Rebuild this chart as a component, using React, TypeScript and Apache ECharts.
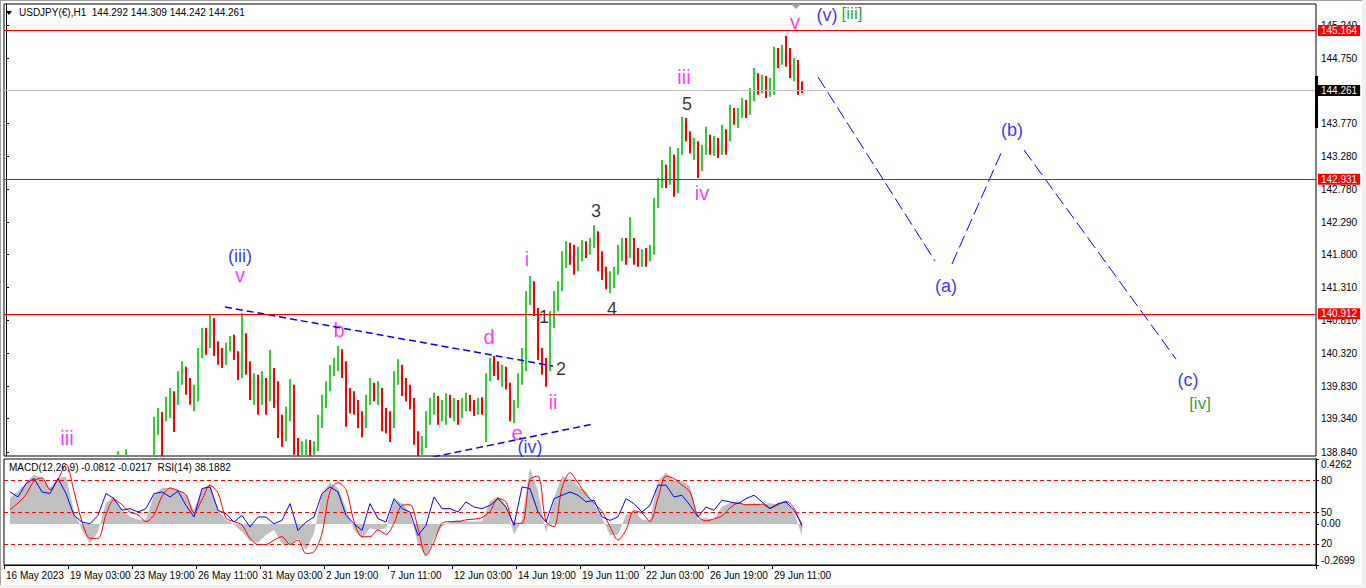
import React, { useEffect, useRef } from "react";
import * as echarts from "echarts";

// ---------- price data (4-hour candles, USDJPY) ----------
const FIRST_OPEN = 136.3;
const closes = [
  136.35, 136.42, 136.55, 136.6, 136.75, 136.9, 137.05, 137.3, 137.55, 137.7,
  137.85, 138.05, 138.3, 138.55, 138.62, 138.5, 138.45, 138.6, 138.55, 138.2,
  137.8, 137.95, 138.1, 138.25, 138.35, 138.4, 138.55, 138.5, 138.6, 138.55,
  138.65, 138.45, 138.4, 138.3, 138.45, 138.55, 138.6, 139.25, 139.4, 139.35,
  139.55, 139.7, 139.6, 139.95, 140.05, 139.8, 139.7, 139.75, 140.3, 140.55,
  140.45, 140.75, 140.4, 140.25, 140.2, 140.4, 140.5, 140.3, 140.05, 140.45,
  140.15, 139.75, 139.9, 139.7, 139.85, 139.75, 140.0, 139.85, 139.3, 139.05,
  139.4, 139.7, 138.95, 138.85, 138.9, 138.95, 138.82, 138.9, 139.3, 139.6,
  139.8, 140.05, 140.15, 140.3, 140.15, 139.7, 139.6, 139.55, 139.35, 139.25,
  139.6, 139.8, 139.7, 139.75, 139.35, 139.3, 139.25, 139.95, 140.1, 139.8,
  139.75, 139.6, 139.1, 138.9, 138.95, 139.35, 139.55, 139.6, 139.4, 139.5,
  139.6, 139.45, 139.55, 139.4, 139.55, 139.65, 139.55, 139.5, 139.6, 139.5,
  139.95, 140.15, 140.1, 140.0, 140.05, 139.85, 139.4, 139.55, 139.95, 140.1,
  141.15, 141.35, 140.95, 140.35, 140.2, 140.1, 140.85, 141.1, 141.3, 141.75,
  141.9, 141.85, 141.6, 141.8, 141.95, 141.9, 141.98, 142.1, 141.7, 141.55,
  141.35, 141.4, 141.55, 141.85, 141.95, 141.8, 142.0, 141.75, 141.7, 141.8,
  141.75, 141.85, 142.55, 142.85, 143.05, 142.9, 143.25, 142.95, 143.35, 143.8,
  143.6, 143.4, 143.45, 143.1, 143.35, 143.5, 143.4, 143.45, 143.35, 143.6,
  143.55, 143.95, 143.85, 143.9, 144.05, 143.95, 144.2, 144.45, 144.3, 144.4,
  144.25, 144.35, 144.8, 144.7, 144.85, 144.75, 144.55, 144.65, 144.35, 144.261,
];
const lows = [
  136.2, 136.28, 136.35, 136.45, 136.55, 136.7, 136.85, 137.0, 137.25, 137.45,
  137.62, 137.8, 138.0, 138.25, 138.45, 138.4, 138.35, 138.4, 138.45, 138.1,
  137.5, 137.75, 137.9, 138.05, 138.2, 138.3, 138.35, 138.4, 138.45, 138.45,
  138.5, 138.35, 138.25, 138.15, 138.25, 138.4, 138.45, 138.55, 139.1, 138.75,
  139.3, 139.35, 139.14, 139.55, 139.85, 139.7, 139.55, 139.45, 139.6, 140.25,
  140.3, 140.4, 140.28, 140.15, 140.1, 140.15, 140.35, 140.22, 139.92, 139.95,
  140.0, 139.62, 139.55, 139.4, 139.55, 139.4, 139.6, 139.5, 139.05, 138.92,
  139.0, 139.3, 138.8, 138.7, 138.72, 138.75, 138.7, 138.72, 138.85, 139.2,
  139.5, 139.75, 139.98, 140.05, 139.95, 139.22, 139.42, 139.4, 139.2, 139.06,
  139.2, 139.55, 139.6, 139.55, 139.15, 139.12, 138.99, 139.2, 139.85, 139.68,
  139.6, 139.48, 138.95, 138.78, 138.8, 138.9, 139.25, 139.4, 139.25, 139.3,
  139.25, 139.35, 139.3, 139.25, 139.35, 139.45, 139.45, 139.38, 139.4, 139.4,
  138.99, 139.9, 139.98, 139.92, 139.82, 139.78, 139.3, 139.27, 139.5, 139.85,
  140.05, 141.05, 140.88, 140.22, 140.0, 139.82, 140.05, 140.7, 140.95, 141.25,
  141.6, 141.65, 141.5, 141.55, 141.7, 141.75, 141.8, 141.9, 141.55, 141.42,
  141.28, 141.22, 141.3, 141.5, 141.7, 141.65, 141.75, 141.65, 141.62, 141.62,
  141.62, 141.7, 141.8, 142.5, 142.8, 142.8, 142.85, 142.67, 142.72, 143.3,
  143.5, 143.32, 143.22, 142.95, 143.05, 143.3, 143.3, 143.28, 143.25, 143.3,
  143.3, 143.5, 143.75, 143.7, 143.85, 143.85, 143.9, 144.1, 144.2, 144.22,
  144.15, 144.17, 144.2, 144.6, 144.65, 144.62, 144.45, 144.4, 144.2, 144.22,
];
const highs = [
  136.45, 136.55, 136.62, 136.7, 136.85, 137.0, 137.15, 137.4, 137.65, 137.8,
  137.95, 138.15, 138.4, 138.65, 138.72, 138.7, 138.6, 138.7, 138.72, 138.6,
  138.25, 138.05, 138.2, 138.35, 138.45, 138.55, 138.65, 138.7, 138.85, 138.7,
  138.88, 138.7, 138.55, 138.5, 138.55, 138.65, 138.7, 139.37, 139.5, 139.44,
  139.67, 139.8, 139.75, 140.05, 140.2, 140.12, 139.95, 139.85, 140.4, 140.7,
  140.7, 140.91, 140.85, 140.5, 140.4, 140.48, 140.58, 140.6, 140.35, 140.92,
  140.62, 140.2, 140.02, 140.0, 140.05, 139.95, 140.37, 140.1, 139.9, 139.4,
  139.52, 139.93, 139.85, 139.05, 139.0, 139.03, 139.02, 139.0, 139.4, 139.7,
  139.9, 140.15, 140.25, 140.43, 140.38, 140.2, 139.8, 139.75, 139.62, 139.45,
  139.7, 139.95, 139.88, 139.9, 139.8, 139.5, 139.45, 140.05, 140.23, 140.15,
  139.95, 139.85, 139.65, 139.15, 139.08, 139.45, 139.65, 139.73, 139.68, 139.62,
  139.72, 139.7, 139.65, 139.62, 139.65, 139.73, 139.7, 139.62, 139.65, 139.66,
  140.02, 140.25, 140.28, 140.2, 140.15, 140.12, 139.88, 139.62, 140.02, 140.4,
  141.25, 141.48, 141.4, 141.0, 140.4, 140.25, 140.95, 141.25, 141.4, 141.85,
  142.0, 141.98, 141.95, 141.92, 142.02, 142.0, 142.05, 142.24, 142.15, 141.85,
  141.62, 141.55, 141.62, 141.95, 142.05, 142.05, 142.36, 142.05, 141.9, 141.88,
  141.9, 141.95, 142.65, 142.95, 143.22, 143.15, 143.42, 143.3, 143.4, 143.87,
  143.85, 143.65, 143.55, 143.5, 143.45, 143.72, 143.6, 143.58, 143.55, 143.75,
  143.68, 144.05, 144.0, 144.0, 144.15, 144.12, 144.3, 144.6, 144.52, 144.5,
  144.48, 144.45, 144.92, 144.9, 144.95, 145.08, 144.9, 144.75, 144.72, 144.4,
];

// ---------- indicator panel (one reading per two candles) ----------
const rsiValues = [
  68.9, 64.2, 76.8, 81.6, 68.9, 67.4, 81.6, 67.4, 46.8, 40.5,
  38.9, 46.8, 67.4, 62.6, 51.6, 53.2, 50.0, 53.2, 67.4, 68.9,
  64.2, 69.6, 56.3, 45.3, 72.1, 73.7, 51.6, 48.4, 40.5, 46.8,
  35.8, 45.3, 45.3, 38.9, 42.1, 57.9, 32.6, 40.5, 45.3, 67.4,
  73.7, 68.9, 46.8, 38.9, 32.6, 57.9, 43.7, 40.5, 62.6, 53.2,
  50.0, 27.9, 37.4, 64.2, 53.2, 53.2, 50.0, 59.5, 54.7, 53.2,
  56.3, 62.6, 54.7, 37.4, 73.7, 72.1, 50.0, 40.5, 62.6, 65.8,
  68.9, 65.8, 59.5, 61.1, 45.3, 42.1, 45.3, 62.6, 57.9, 50.0,
  56.3, 75.3, 75.3, 64.2, 65.8, 56.3, 45.3, 54.7, 51.6, 61.1,
  59.5, 57.9, 62.6, 65.8, 59.5, 53.2, 57.9, 59.5, 51.6, 38.2,
];
const macdValues = [
  0.17, 0.214, 0.27, 0.325, 0.303, 0.236, 0.303, 0.31, 0.082, -0.04,
  -0.128, -0.051, 0.137, 0.181, 0.082, 0.049, 0.027, 0.027, 0.192, 0.236,
  0.236, 0.225, 0.192, 0.093, 0.225, 0.263, 0.093, 0.027, -0.007, -0.051,
  -0.113, -0.122, -0.073, -0.04, -0.128, -0.139, -0.095, -0.172, -0.062, 0.203,
  0.27, 0.236, 0.104, -0.04, -0.095, -0.029, -0.04, -0.029, 0.159, 0.137,
  0.071, -0.128, -0.217, -0.095, -0.018, 0.015, 0.027, 0.015, 0.015, 0.015,
  0.148, 0.181, 0.126, -0.073, 0.03, 0.369, 0.214, -0.062, 0.17, 0.314,
  0.292, 0.248, 0.214, 0.137, 0.038, -0.073, -0.073, 0.06, 0.086, 0.027,
  0.027, 0.281, 0.336, 0.281, 0.281, 0.248, 0.027, 0.038, 0.027, 0.115,
  0.137, 0.148, 0.126, 0.137, 0.126, 0.137, 0.126, 0.148, 0.082, -0.081,
];
const signalValues = [
  0.093, 0.137, 0.192, 0.281, 0.303, 0.225, 0.292, 0.391, 0.214, 0.015,
  -0.095, -0.095, 0.06, 0.159, 0.126, 0.077, 0.06, 0.015, 0.06, 0.181,
  0.236, 0.219, 0.192, 0.071, 0.159, 0.254, 0.203, 0.038, 0.015, -0.007,
  -0.095, -0.135, -0.135, -0.106, -0.084, -0.135, -0.106, -0.194, -0.183, -0.062,
  0.214, 0.27, 0.225, 0.015, -0.084, -0.084, -0.04, -0.069, 0.004, 0.122,
  0.126, -0.029, -0.206, -0.117, 0.004, 0.015, 0.015, 0.027, 0.031, 0.042,
  0.082, 0.166, 0.144, 0.004, 0.004, 0.292, 0.314, 0.015, -0.018, 0.236,
  0.336, 0.27, 0.192, 0.137, 0.082, -0.018, -0.106, -0.04, 0.086, 0.071,
  0.015, 0.17, 0.314, 0.298, 0.254, 0.21, 0.049, 0.02, 0.033, 0.053,
  0.104, 0.137, 0.126, 0.126, 0.13, 0.104, 0.126, 0.148, 0.104, -0.022,
];

// ---------- axis ticks / levels ----------
const priceTicks = [145.24, 144.75, 143.77, 143.28, 142.78, 142.29, 141.8, 141.31, 140.81, 140.32, 139.83, 139.34, 138.84];
const rsiTicks = [20, 50, 80];
const rsiLevels = [80, 50, 20];
const macdTicks = [-0.2699, 0, 0.4262];
const resistanceLevels = [145.164, 142.931, 140.912];
const currentPrice = 144.261;

// ---------- Elliott wave annotations (candle index, price) ----------
const waveText = ["iii", "(iii)", "v", "b", "d", "e", "(iv)", "i", "1", "2", "ii", "3", "4", "5", "iii", "iv", "v", "(v)", "[iii]", "(a)", "(b)", "(c)", "[iv]"];
const waveIdx = [15.25, 58.5, 58.5, 83.25, 120.75, 127.75, 131, 130.25, 134.5, 138.75, 136.75, 147.5, 151.5, 170.25, 169.5, 174, 197.25, 205.25, 211.5, 235, 251.5, 295.5, 298.5];
const wavePrice = [139.05, 141.78, 141.5, 140.67, 140.565, 139.125, 138.915, 141.735, 140.865, 140.085, 139.59, 142.455, 140.985, 144.06, 144.465, 142.725, 145.29, 145.395, 145.425, 141.33, 143.67, 139.92, 139.575];
const waveDegree = ["m", "B", "m", "m", "m", "m", "B", "m", "k", "k", "m", "k", "k", "k", "m", "m", "m", "B", "G", "B", "B", "B", "G"];

const triangleUpper = [[54.75, 141.015], [136.75, 140.13]];
const triangleLower = [[106.75, 138.765], [146.75, 139.26]];
const projectionLegs = [
  [[203, 144.465], [232.25, 141.705]],
  [[236.5, 141.66], [249, 143.355]],
  [[254.5, 143.37], [292.5, 140.235]],
];

const N_CATS = 328;
const MONTHS = ["Jan", "Feb", "Mar", "Apr", "May", "Jun", "Jul", "Aug", "Sep", "Oct", "Nov", "Dec"];

function buildCategories(n: number): string[] {
  const out: string[] = [];
  let t = Date.UTC(2023, 4, 16, 11);
  for (let i = 0; i < n; i++) {
    const d = new Date(t);
    const hh = String(d.getUTCHours()).padStart(2, "0");
    out.push(i === 0 ? `${d.getUTCDate()} ${MONTHS[d.getUTCMonth()]} ${d.getUTCFullYear()}` : `${d.getUTCDate()} ${MONTHS[d.getUTCMonth()]} ${hh}:00`);
    t += 4 * 3600e3;
    let nd = new Date(t);
    while (nd.getUTCDay() === 0 || nd.getUTCDay() === 6) {
      t += 24 * 3600e3;
      nd = new Date(t);
    }
  }
  return out;
}

const FONT = '"Liberation Sans", Arial, sans-serif';
const DEGREE_STYLE: Record<string, { color: string; size: number }> = {
  m: { color: "#ff00ff", size: 20 },
  B: { color: "#0000ff", size: 18 },
  k: { color: "#000000", size: 18 },
  G: { color: "#008000", size: 17 },
};

export default function App() {
  const ref = useRef<HTMLDivElement>(null);

  useEffect(() => {
    if (!ref.current) return;
    const chart = echarts.init(ref.current, null, { renderer: "svg" });
    const categories = buildCategories(N_CATS);
    const candles = closes.map((c, i) => [i === 0 ? FIRST_OPEN : closes[i - 1], c, lows[i], highs[i]]);
    const nData = closes.length;

    const axisText = { fontSize: 10, color: "#000", fontFamily: FONT };

    const option: any = {
      animation: false,
      backgroundColor: "#ffffff",
      textStyle: { fontFamily: FONT },
      title: [
        { text: "USDJPY(€),H1  144.292 144.309 144.242 144.261", left: 19, top: 7, padding: 0, textStyle: { ...axisText, fontWeight: "normal" } },
        { text: "MACD(12,26,9) -0.0812 -0.0217  RSI(14) 38.1882", left: 9, top: 462, padding: 0, textStyle: { ...axisText, fontWeight: "normal" } },
      ],
      grid: [
        { left: 4, top: 4, width: 1312, height: 452, show: true, borderColor: "#000", borderWidth: 1, backgroundColor: "#fff" },
        { left: 4, top: 459, width: 1312, height: 106, show: true, borderColor: "#000", borderWidth: 1, backgroundColor: "#fff" },
      ],
      xAxis: [
        { type: "category", gridIndex: 0, data: categories, boundaryGap: true, axisLine: { show: false }, axisTick: { show: false }, axisLabel: { show: false }, splitLine: { show: false } },
        {
          type: "category", gridIndex: 1, data: categories, boundaryGap: true,
          axisLine: { show: true, lineStyle: { color: "#000" } },
          axisTick: { show: true, length: 4, interval: (i: number) => i % 16 === 0 && i < nData, lineStyle: { color: "#000" } },
          axisLabel: { ...axisText, interval: (i: number) => i % 16 === 0 && i < nData, align: "left", margin: 5 },
          splitLine: { show: false },
        },
        { type: "value", gridIndex: 0, min: -0.5, max: N_CATS - 0.5, show: false },
      ],
      yAxis: [
        {
          type: "value", gridIndex: 0, position: "right", min: 138.78, max: 145.56, scale: true,
          axisLine: { show: true, lineStyle: { color: "#000" } },
          axisTick: { show: true, length: 3, customValues: priceTicks, lineStyle: { color: "#000" } },
          axisLabel: { ...axisText, customValues: priceTicks, margin: 5, formatter: (v: number) => v.toFixed(3) },
          splitLine: { show: false },
        },
        {
          type: "value", gridIndex: 1, position: "right", min: 0, max: 100,
          axisLine: { show: true, lineStyle: { color: "#000" } },
          axisTick: { show: true, length: 3, customValues: rsiTicks, lineStyle: { color: "#000" } },
          axisLabel: { ...axisText, customValues: rsiTicks, margin: 5 },
          splitLine: { show: false },
        },
        {
          type: "value", gridIndex: 1, position: "right", min: -0.2699, max: 0.4262,
          axisLine: { show: true, lineStyle: { color: "#000" } },
          axisTick: { show: true, length: 3, customValues: macdTicks, lineStyle: { color: "#000" } },
          axisLabel: {
            ...axisText, customValues: macdTicks, margin: 5,
            verticalAlignMaxLabel: "top", verticalAlignMinLabel: "bottom",
            formatter: (v: number) => (v === 0 ? "0.00" : String(v)),
          },
          splitLine: { show: false },
        },
      ],
      series: [
        {
          type: "candlestick", name: "USDJPY", xAxisIndex: 0, yAxisIndex: 0, data: candles,
          large: true, largeThreshold: 50, clip: true,
          itemStyle: { color: "#32cd32", color0: "#ff0000", borderColor: "#32cd32", borderColor0: "#ff0000", borderWidth: 2 },
        },
        {
          type: "line", name: "levels", xAxisIndex: 0, yAxisIndex: 0, data: [], silent: true,
          markLine: {
            silent: true, symbol: ["none", "none"], precision: 3,
            label: { show: true, position: "end", distance: 2, color: "#fff", fontSize: 10, fontFamily: FONT, padding: [1, 3, 0, 3], formatter: (p: any) => Number(p.value).toFixed(3) },
            data: [
              ...resistanceLevels.map((v) => ({ yAxis: v, lineStyle: { color: "#ff0000", width: 1, type: "solid" }, label: { backgroundColor: "#ff0000" } })),
              { yAxis: currentPrice, lineStyle: { color: "#c0c0c0", width: 1, type: "solid" }, label: { backgroundColor: "#000000" } },
            ],
          },
        },
        { type: "line", xAxisIndex: 2, yAxisIndex: 0, data: triangleUpper, symbol: "none", silent: true, lineStyle: { color: "#0000ff", width: 1.5, type: [7, 4] } },
        { type: "line", xAxisIndex: 2, yAxisIndex: 0, data: triangleLower, symbol: "none", silent: true, lineStyle: { color: "#0000ff", width: 1.5, type: [7, 4] } },
        ...projectionLegs.map((leg) => ({ type: "line", xAxisIndex: 2, yAxisIndex: 0, data: leg, symbol: "none", silent: true, lineStyle: { color: "#0000ff", width: 1, type: [13, 5] } })),
        {
          type: "scatter", xAxisIndex: 2, yAxisIndex: 0, symbolSize: 0, silent: true, clip: false,
          data: waveText.map((t, i) => ({
            value: [waveIdx[i], wavePrice[i]],
            label: { show: true, position: "inside", formatter: t, color: DEGREE_STYLE[waveDegree[i]].color, fontSize: DEGREE_STYLE[waveDegree[i]].size, fontFamily: FONT },
          })),
        },
        {
          type: "line", name: "MACD", xAxisIndex: 1, yAxisIndex: 2, symbol: "none", silent: true,
          data: macdValues.map((v, k) => [2 * k + 1, v]),
          lineStyle: { width: 0 }, areaStyle: { color: "#c0c0c0", opacity: 1 },
        },
        {
          type: "line", name: "Signal", xAxisIndex: 1, yAxisIndex: 2, symbol: "none", silent: true, smooth: 0.3,
          data: signalValues.map((v, k) => [2 * k + 1, v]),
          lineStyle: { color: "#ff0000", width: 1 },
        },
        {
          type: "line", name: "RSI", xAxisIndex: 1, yAxisIndex: 1, symbol: "none", silent: true,
          data: rsiValues.map((v, k) => [2 * k + 1, v]),
          lineStyle: { color: "#0000ff", width: 1 },
          markLine: {
            silent: true, symbol: ["none", "none"], label: { show: false },
            lineStyle: { color: "#ff0000", width: 1, type: [4, 3] },
            data: rsiLevels.map((v) => ({ yAxis: v })),
          },
        },
      ],
      graphic: [
        { type: "polygon", z: 10, silent: true, shape: { points: [[6, 11], [12, 11], [9, 15]] }, style: { fill: "#000" } },
        { type: "polygon", z: 10, silent: true, shape: { points: [[791, 4], [801, 4], [796, 9]] }, style: { fill: "#a0a0a0" } },
        { type: "rect", z: 10, silent: true, shape: { x: 1315, y: 76, width: 3, height: 52 }, style: { fill: "#000" } },
        { type: "rect", z: 10, silent: true, shape: { x: 0, y: 0, width: 1366, height: 1 }, style: { fill: "#a0a0a0" } },
        { type: "rect", z: 10, silent: true, shape: { x: 0, y: 0, width: 1, height: 588 }, style: { fill: "#a0a0a0" } },
        { type: "rect", z: 10, silent: true, shape: { x: 1362, y: 0, width: 4, height: 588 }, style: { fill: "#f0f0f0" } },
        { type: "rect", z: 10, silent: true, shape: { x: 0, y: 585, width: 1366, height: 3 }, style: { fill: "#f0f0f0" } },
      ],
    };

    chart.setOption(option);
    return () => chart.dispose();
  }, []);

  return <div ref={ref} style={{ position: "fixed", left: 0, top: 0, width: 1366, height: 588, background: "#fff" }} />;
}
